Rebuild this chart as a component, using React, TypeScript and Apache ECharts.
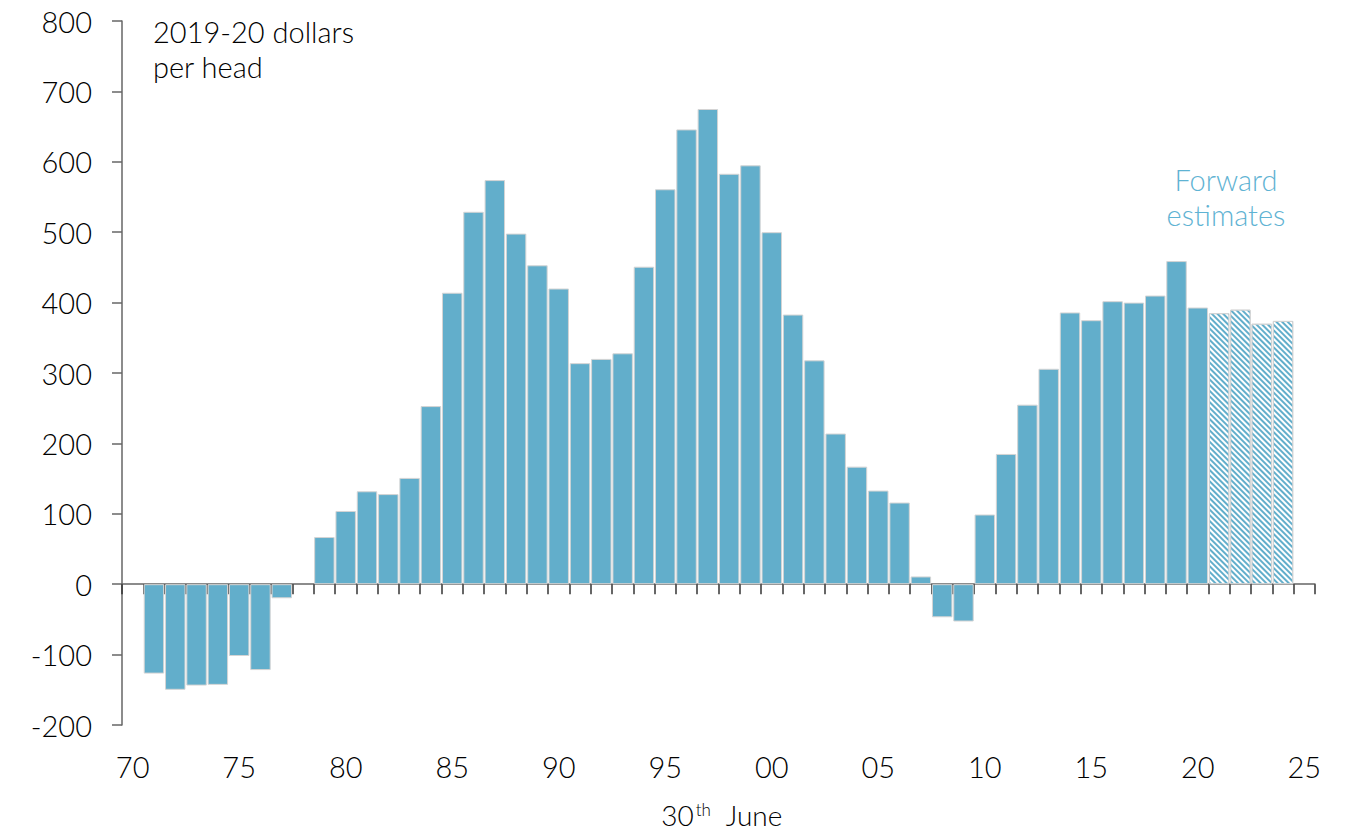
import React, { useEffect, useRef } from "react";
import * as echarts from "echarts";

const yearLabels = [
  "70", "71", "72", "73", "74", "75", "76", "77", "78", "79",
  "80", "81", "82", "83", "84", "85", "86", "87", "88", "89",
  "90", "91", "92", "93", "94", "95", "96", "97", "98", "99",
  "00", "01", "02", "03", "04", "05", "06", "07", "08", "09",
  "10", "11", "12", "13", "14", "15", "16", "17", "18", "19",
  "20", "21", "22", "23", "24", "25",
];

// 2019-20 dollars per head, year ending 30 June
const actualValues: (number | null)[] = [
  null, -127, -150, -144, -143, -102, -122, -20, null, 67,
  104, 132, 128, 151, 253, 414, 529, 574, 498, 453,
  420, 314, 320, 328, 451, 561, 646, 675, 583, 595,
  500, 383, 318, 214, 167, 133, 116, 11, -47, -53,
  99, 185, 255, 306, 386, 375, 402, 400, 410, 459,
  393, null, null, null, null, null,
];

const forwardValues: (number | null)[] = [
  null, null, null, null, null, null, null, null, null, null,
  null, null, null, null, null, null, null, null, null, null,
  null, null, null, null, null, null, null, null, null, null,
  null, null, null, null, null, null, null, null, null, null,
  null, null, null, null, null, null, null, null, null, null,
  null, 385, 390, 370, 374, null,
];

const yTicks = { min: -200, max: 800, interval: 100 };

const FONT = "Lato, 'DejaVu Sans', sans-serif";
const WEIGHT = 300;
const TEXT = "#000000";
const BAR = "#62AECB";
const AXIS = "#666666";

export default function App() {
  const ref = useRef<HTMLDivElement>(null);

  useEffect(() => {
    if (!ref.current) return;
    const chart = echarts.init(ref.current, undefined, { renderer: "svg" });
    chart.setOption({
      animation: false,
      backgroundColor: "#ffffff",
      textStyle: { fontFamily: FONT, fontWeight: WEIGHT },
      grid: { left: 122, right: 39, top: 21, bottom: 110, containLabel: false },
      xAxis: [
        {
          type: "category",
          data: yearLabels,
          position: "bottom",
          boundaryGap: true,
          axisLine: { show: true, onZero: true, lineStyle: { color: AXIS, width: 1.5 } },
          axisTick: { show: true, interval: 0, length: 10, lineStyle: { color: "#333", width: 1.5 } },
          axisLabel: { show: false },
          splitLine: { show: false },
        },
        {
          type: "category",
          data: yearLabels,
          position: "bottom",
          boundaryGap: true,
          axisLine: { show: false, onZero: false },
          axisTick: { show: false },
          axisLabel: {
            show: true,
            interval: 4,
            margin: 27,
            fontSize: 29,
            fontWeight: WEIGHT,
            color: TEXT,
            fontFamily: FONT,
          },
          splitLine: { show: false },
        },
      ],
      yAxis: {
        type: "value",
        min: yTicks.min,
        max: yTicks.max,
        interval: yTicks.interval,
        axisLine: { show: true, lineStyle: { color: AXIS, width: 1.5 } },
        axisTick: { show: true, length: 10, lineStyle: { color: AXIS, width: 1.5 } },
        axisLabel: { margin: 30, fontSize: 29, fontWeight: WEIGHT, color: TEXT, fontFamily: FONT },
        splitLine: { show: false },
      },
      series: [
        {
          type: "bar",
          name: "Actual",
          xAxisIndex: 0,
          data: actualValues,
          barCategoryGap: "4%",
          barGap: "-100%",
          itemStyle: { color: BAR, borderColor: "#d4d4d4", borderWidth: 1 },
        },
        {
          type: "bar",
          name: "Forward estimates",
          xAxisIndex: 0,
          data: forwardValues,
          barCategoryGap: "4%",
          barGap: "-100%",
          itemStyle: {
            color: "#ffffff",
            borderColor: "#d4d4d4",
            borderWidth: 1,
            decal: {
              symbol: "rect",
              symbolSize: 1,
              color: BAR,
              dashArrayX: [1, 0],
              dashArrayY: [2, 1.6],
              rotation: Math.PI / 4,
            },
          },
        },
      ],
      graphic: [
        {
          type: "text",
          left: 153,
          top: 14,
          style: {
            text: "2019-20 dollars\nper head",
            font: `${WEIGHT} 29px ${FONT}`,
            fill: TEXT,
            lineHeight: 35,
          },
        },
        {
          type: "text",
          x: 1226,
          y: 162,
          style: {
            text: "Forward\nestimates",
            font: `${WEIGHT} 29px ${FONT}`,
            fill: "#5fb3d3",
            align: "center",
            lineHeight: 35,
          },
        },
        {
          type: "text",
          x: 722,
          y: 815,
          style: {
            text: "{n|30}{s|th}{n|  June}",
            align: "center",
            verticalAlign: "middle",
            rich: {
              n: { fontSize: 28, fontFamily: FONT, fontWeight: WEIGHT, fill: TEXT } as any,
              s: { fontSize: 17, fontFamily: FONT, fontWeight: WEIGHT, fill: TEXT, verticalAlign: "top", padding: [0, 0, 12, 2] } as any,
            },
          },
        },
      ],
    });
    return () => chart.dispose();
  }, []);

  return (
    <div
      ref={ref}
      style={{ position: "fixed", left: 0, top: 0, width: 1354, height: 835 }}
    />
  );
}
